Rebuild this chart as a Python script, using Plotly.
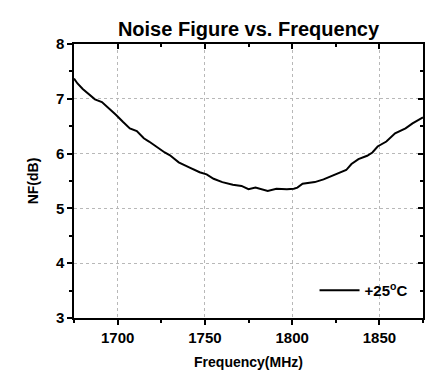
import plotly.graph_objects as go

freq = [1675, 1677, 1680, 1682, 1684, 1687, 1691, 1695, 1699, 1703, 1707, 1711, 1715,
        1718, 1722, 1727, 1730, 1735, 1741, 1747, 1751, 1755, 1760, 1766, 1771, 1775,
        1779, 1782, 1786, 1791, 1797, 1801, 1803, 1806, 1813, 1818, 1823, 1827, 1831,
        1834, 1838, 1843, 1846, 1849, 1854, 1859, 1865, 1869, 1875]
nf = [7.37, 7.28, 7.18, 7.13, 7.07, 6.99, 6.94, 6.83, 6.71, 6.58, 6.46, 6.41, 6.28,
      6.22, 6.13, 6.02, 5.97, 5.84, 5.75, 5.66, 5.62, 5.54, 5.48, 5.43, 5.41, 5.35,
      5.38, 5.35, 5.32, 5.36, 5.35, 5.36, 5.38, 5.45, 5.48, 5.53, 5.60, 5.65, 5.70,
      5.81, 5.90, 5.96, 6.02, 6.13, 6.22, 6.37, 6.46, 6.55, 6.66]
series_name = "+25<sup>o</sup>C"
x_ticks = [1700, 1750, 1800, 1850]
y_ticks = [3, 4, 5, 6, 7, 8]
x_range = [1675, 1875]
y_range = [3, 8]

FONT = "Liberation Sans, Arial, sans-serif"
BOLD = lambda s: dict(size=s, family=FONT, weight="bold", color="black")

fig = go.Figure()
fig.add_trace(go.Scatter(x=freq, y=nf, mode="lines", name=series_name,
                         line=dict(color="black", width=2)))
# invisible trace to anchor mirror axes (top/right, inside ticks)
fig.add_trace(go.Scatter(x=x_range, y=y_range, mode="lines", xaxis="x2", yaxis="y2",
                         line=dict(color="rgba(0,0,0,0)"), showlegend=False,
                         hoverinfo="skip"))

axis_common = dict(showline=True, linecolor="black", linewidth=1.5, zeroline=False)
grid = dict(showgrid=True, gridcolor="#b8b8b8", griddash="dot", gridwidth=1)

fig.update_layout(
    width=427, height=371,
    margin=dict(l=74, r=4, t=44, b=53),
    paper_bgcolor="white", plot_bgcolor="white",
    font=dict(family=FONT, color="black"),
    title=dict(text="Noise Figure vs. Frequency", x=0.582, xanchor="center",
               yref="container", y=0.94, yanchor="top", font=BOLD(20)),
    xaxis=dict(range=x_range, tickvals=x_ticks, ticks="outside", ticklen=5,
               tickwidth=1.5, tickcolor="black", tickfont=BOLD(15),
               minor=dict(tickvals=[1675, 1725, 1775, 1825, 1875], ticks="outside",
                          ticklen=3, tickwidth=1.5, tickcolor="black", showgrid=False),
               title=dict(text="Frequency(MHz)", font=BOLD(14), standoff=12),
               **grid, **axis_common),
    yaxis=dict(range=y_range, tickvals=y_ticks, ticks="outside", ticklen=5,
               tickwidth=1.5, tickcolor="black", tickfont=BOLD(15),
               minor=dict(tickvals=[3.5, 4.5, 5.5, 6.5, 7.5], ticks="outside",
                          ticklen=3, tickwidth=1.5, tickcolor="black", showgrid=False),
               title=dict(text="NF(dB)", font=BOLD(14), standoff=14),
               **grid, **axis_common),
    xaxis2=dict(range=x_range, overlaying="x", side="top", tickvals=x_ticks,
                ticks="inside", ticklen=5, tickwidth=1.5, tickcolor="black",
                showticklabels=False, showgrid=False,
                minor=dict(tickvals=[1725, 1775, 1825], ticks="inside", ticklen=3,
                           tickwidth=1.5, tickcolor="black"),
                **axis_common),
    yaxis2=dict(range=y_range, overlaying="y", side="right", tickvals=y_ticks,
                ticks="inside", ticklen=5, tickwidth=1.5, tickcolor="black",
                showticklabels=False, showgrid=False,
                minor=dict(tickvals=[3.5, 4.5, 5.5, 6.5, 7.5], ticks="inside", ticklen=3,
                           tickwidth=1.5, tickcolor="black"),
                **axis_common),
    showlegend=True,
    legend=dict(x=0.97, y=0.1, xanchor="right", yanchor="middle",
                bgcolor="rgba(0,0,0,0)", font=BOLD(15), itemwidth=40),
)

fig.write_html("out.html")
